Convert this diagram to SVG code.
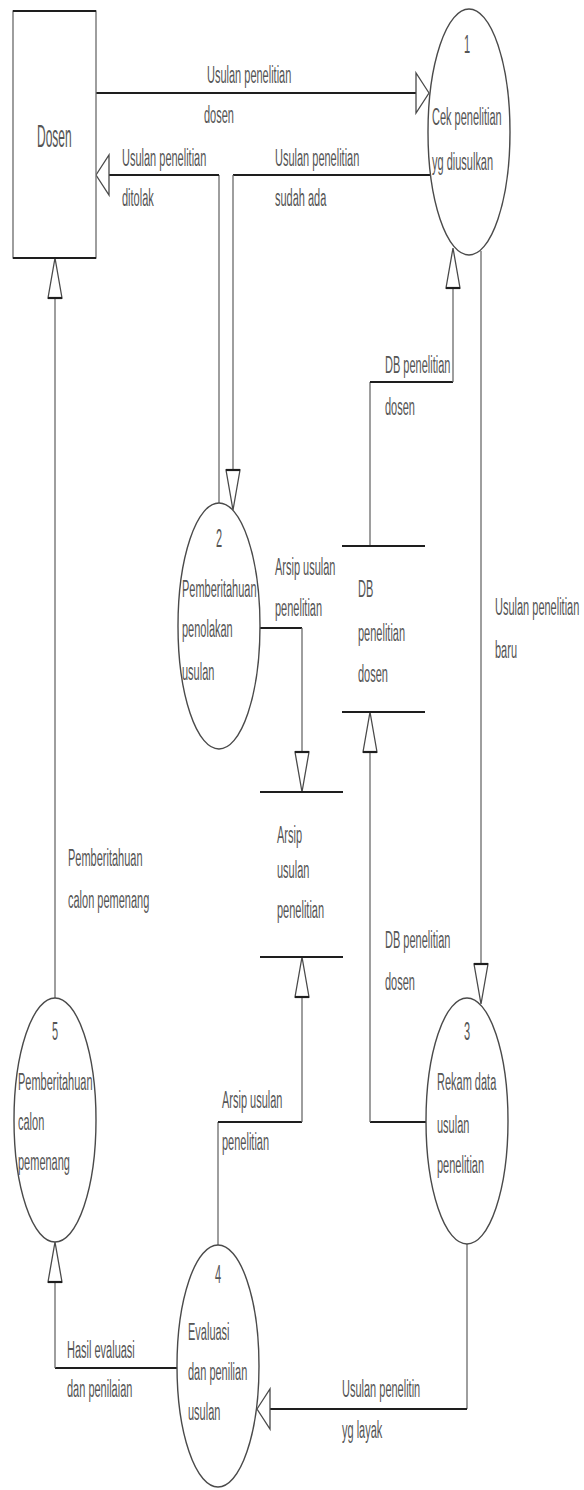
<svg xmlns="http://www.w3.org/2000/svg" xmlns:xlink="http://www.w3.org/1999/xlink" width="584" height="1490" viewBox="0 0 584 1490">
  <style>
    .bg { fill: #ffffff; }
    .h { stroke: #1e1e1e; stroke-width: 2.2; fill: none; }
    .v { stroke: #6a6a6a; stroke-width: 1.3; fill: none; }
    .proc { fill: #ffffff; stroke: #4a4a4a; stroke-width: 1.4; }
    .ent { fill: #ffffff; stroke: #6a6a6a; stroke-width: 1.3; }
    .ah { fill: #ffffff; stroke: #4a4a4a; stroke-width: 1.3; stroke-linejoin: miter; }
    .ahb { stroke: #1e1e1e; stroke-width: 2.2; }
    text { font-family: "Liberation Sans", Arial, sans-serif; font-size: 11px; fill: #555555; }
    .big { font-size: 12px; }
    .mid { text-anchor: middle; }
  </style>
  <defs>
    <!-- open triangular arrowheads, tip at the origin -->
    <g id="ah-right"><polygon class="ah" points="0,0 -13,-20 -13,20"/></g>
    <g id="ah-left"><polygon class="ah" points="0,0 13,-20 13,20"/></g>
    <g id="ah-down"><polygon class="ah" points="0,0 -7,-40 7,-40"/><line class="ahb" x1="-7" y1="-40" x2="7" y2="-40"/></g>
    <g id="ah-up"><polygon class="ah" points="0,0 -7,40 7,40"/><line class="ahb" x1="-7" y1="40" x2="7" y2="40"/></g>
  </defs>

  <rect class="bg" x="0" y="0" width="584" height="1490"/>

  <!-- data flows -->
  <g id="connectors">
    <!-- Dosen -> 1 -->
    <line class="h" x1="96" y1="93" x2="416" y2="93"/>
    <use xlink:href="#ah-right" x="429" y="93"/>
    <text transform="translate(207,83) scale(1,2.2)">Usulan penelitian</text>
    <text transform="translate(204,123) scale(1,2.2)">dosen</text>

    <!-- 1 -> 2 -->
    <line class="h" x1="431" y1="175" x2="233" y2="175"/>
    <line class="v" x1="233" y1="175" x2="233" y2="470"/>
    <use xlink:href="#ah-down" x="233" y="510"/>
    <text transform="translate(275,166) scale(1,2.2)">Usulan penelitian</text>
    <text transform="translate(275,206) scale(1,2.2)">sudah ada</text>

    <!-- 2 -> Dosen -->
    <line class="v" x1="219" y1="503" x2="219" y2="175"/>
    <line class="h" x1="219" y1="175" x2="109" y2="175"/>
    <use xlink:href="#ah-left" x="96" y="175"/>
    <text transform="translate(122,166) scale(1,2.2)">Usulan penelitian</text>
    <text transform="translate(122,206) scale(1,2.2)">ditolak</text>

    <!-- DB penelitian dosen -> 1 -->
    <line class="v" x1="370" y1="546" x2="370" y2="382"/>
    <line class="h" x1="370" y1="382" x2="453" y2="382"/>
    <line class="v" x1="453" y1="382" x2="453" y2="288"/>
    <use xlink:href="#ah-up" x="453" y="248"/>
    <text transform="translate(385,373) scale(1,2.2)">DB penelitian</text>
    <text transform="translate(385,415) scale(1,2.2)">dosen</text>

    <!-- 1 -> 3 -->
    <line class="v" x1="481" y1="251" x2="481" y2="965"/>
    <use xlink:href="#ah-down" x="481" y="1004"/>
    <text transform="translate(495,615) scale(1,2.2)">Usulan penelitian</text>
    <text transform="translate(495,658) scale(1,2.2)">baru</text>

    <!-- 2 -> Arsip usulan penelitian -->
    <line class="h" x1="260" y1="628" x2="302" y2="628"/>
    <line class="v" x1="302" y1="628" x2="302" y2="752"/>
    <use xlink:href="#ah-down" x="302" y="792"/>
    <text transform="translate(275,575) scale(1,2.2)">Arsip usulan</text>
    <text transform="translate(275,616) scale(1,2.2)">penelitian</text>

    <!-- 3 -> DB penelitian dosen -->
    <line class="h" x1="427" y1="1122" x2="370" y2="1122"/>
    <line class="v" x1="370" y1="1122" x2="370" y2="752"/>
    <use xlink:href="#ah-up" x="370" y="712"/>
    <text transform="translate(385,948) scale(1,2.2)">DB penelitian</text>
    <text transform="translate(385,990) scale(1,2.2)">dosen</text>

    <!-- 4 -> Arsip usulan penelitian -->
    <line class="v" x1="218" y1="1245" x2="218" y2="1122"/>
    <line class="h" x1="218" y1="1122" x2="302" y2="1122"/>
    <line class="v" x1="302" y1="1122" x2="302" y2="997"/>
    <use xlink:href="#ah-up" x="302" y="957"/>
    <text transform="translate(222,1108) scale(1,2.2)">Arsip usulan</text>
    <text transform="translate(222,1150) scale(1,2.2)">penelitian</text>

    <!-- 3 -> 4 -->
    <line class="v" x1="467" y1="1244" x2="467" y2="1409"/>
    <line class="h" x1="467" y1="1409" x2="270" y2="1409"/>
    <use xlink:href="#ah-left" x="257" y="1409"/>
    <text transform="translate(342,1397) scale(1,2.2)">Usulan penelitin</text>
    <text transform="translate(342,1438) scale(1,2.2)">yg layak</text>

    <!-- 4 -> 5 -->
    <line class="h" x1="177" y1="1368" x2="55" y2="1368"/>
    <line class="v" x1="55" y1="1368" x2="55" y2="1282"/>
    <use xlink:href="#ah-up" x="55" y="1242"/>
    <text transform="translate(67,1358) scale(1,2.2)">Hasil evaluasi</text>
    <text transform="translate(67,1397) scale(1,2.2)">dan penilaian</text>

    <!-- 5 -> Dosen -->
    <line class="v" x1="55" y1="998" x2="55" y2="298"/>
    <use xlink:href="#ah-up" x="55" y="258"/>
    <text transform="translate(68,866) scale(1,2.2)">Pemberitahuan</text>
    <text transform="translate(68,908) scale(1,2.2)">calon pemenang</text>
  </g>

  <!-- external entity -->
  <g id="dosen">
    <rect class="ent" x="13" y="11" width="83" height="247"/>
    <line class="h" x1="13" y1="11" x2="96" y2="11"/>
    <line class="h" x1="13" y1="258" x2="96" y2="258"/>
    <text class="big" transform="translate(37,147) scale(1,2.6)">Dosen</text>
  </g>

  <!-- processes -->
  <g id="proc1">
    <ellipse class="proc" cx="469" cy="132" rx="41" ry="123"/>
    <text class="mid" transform="translate(467,53) scale(1,2.4)">1</text>
    <text transform="translate(432,125) scale(1,2.2)">Cek penelitian</text>
    <text transform="translate(432,170) scale(1,2.2)">yg diusulkan</text>
  </g>

  <g id="proc2">
    <ellipse class="proc" cx="219" cy="626" rx="41" ry="123"/>
    <text class="mid" transform="translate(219,547) scale(1,2.4)">2</text>
    <text transform="translate(182,597) scale(1,2.2)">Pemberitahuan</text>
    <text transform="translate(182,637) scale(1,2.2)">penolakan</text>
    <text transform="translate(182,680) scale(1,2.2)">usulan</text>
  </g>

  <g id="proc3">
    <ellipse class="proc" cx="467" cy="1121" rx="41" ry="123"/>
    <text class="mid" transform="translate(467,1040) scale(1,2.4)">3</text>
    <text transform="translate(437,1090) scale(1,2.2)">Rekam data</text>
    <text transform="translate(437,1133) scale(1,2.2)">usulan</text>
    <text transform="translate(437,1173) scale(1,2.2)">penelitian</text>
  </g>

  <g id="proc4">
    <ellipse class="proc" cx="218" cy="1366" rx="41" ry="121"/>
    <text class="mid" transform="translate(218,1283) scale(1,2.4)">4</text>
    <text transform="translate(188,1340) scale(1,2.2)">Evaluasi</text>
    <text transform="translate(188,1380) scale(1,2.2)">dan penilian</text>
    <text transform="translate(188,1420) scale(1,2.2)">usulan</text>
  </g>

  <g id="proc5">
    <ellipse class="proc" cx="55" cy="1120" rx="41" ry="122"/>
    <text class="mid" transform="translate(55,1040) scale(1,2.4)">5</text>
    <text transform="translate(18,1090) scale(1,2.2)">Pemberitahuan</text>
    <text transform="translate(18,1130) scale(1,2.2)">calon</text>
    <text transform="translate(18,1170) scale(1,2.2)">pemenang</text>
  </g>

  <!-- data stores -->
  <g id="store-db">
    <line class="h" x1="342" y1="546" x2="425" y2="546"/>
    <line class="h" x1="342" y1="712" x2="425" y2="712"/>
    <text transform="translate(358,597) scale(1,2.2)">DB</text>
    <text transform="translate(358,641) scale(1,2.2)">penelitian</text>
    <text transform="translate(358,682) scale(1,2.2)">dosen</text>
  </g>

  <g id="store-arsip">
    <line class="h" x1="260" y1="792" x2="343" y2="792"/>
    <line class="h" x1="260" y1="957" x2="343" y2="957"/>
    <text transform="translate(277,843) scale(1,2.2)">Arsip</text>
    <text transform="translate(277,878) scale(1,2.2)">usulan</text>
    <text transform="translate(277,918) scale(1,2.2)">penelitian</text>
  </g>
</svg>
